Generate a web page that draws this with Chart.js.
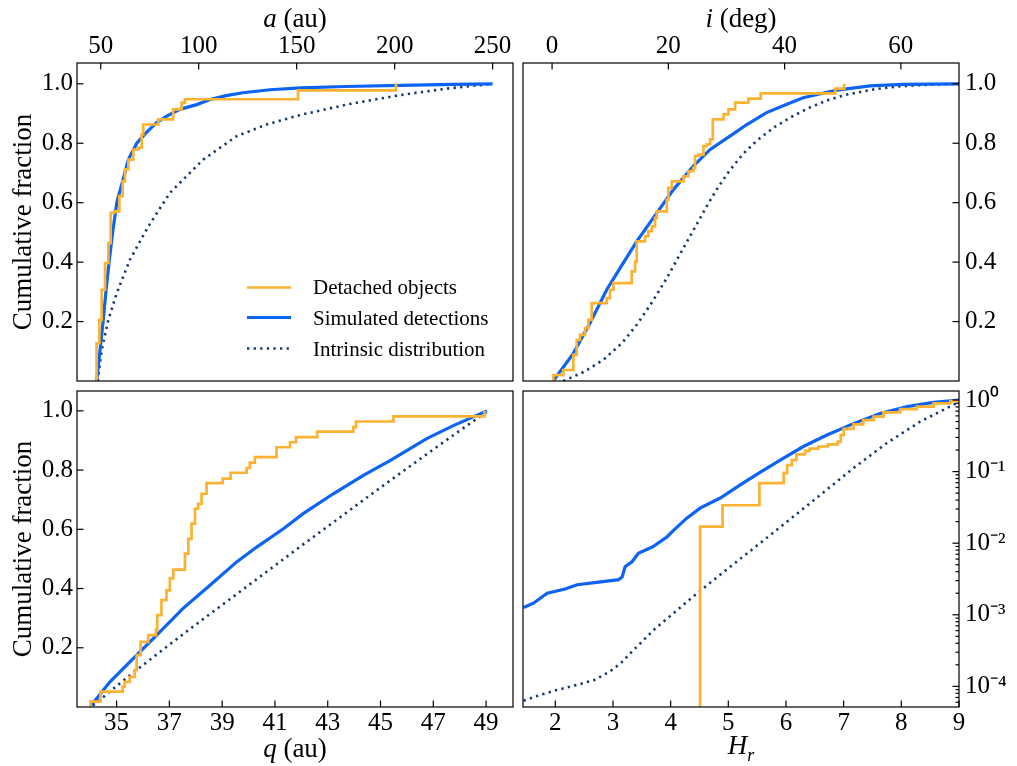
<!DOCTYPE html>
<html>
<head>
<meta charset="utf-8">
<script src="https://cdn.jsdelivr.net/npm/chart.js@4.4.1/dist/chart.umd.min.js"></script>
<style>
  body { margin: 0; background: #fff; }
  #wrap { position: relative; width: 1017px; height: 766px; font-family: "Liberation Serif", "Times New Roman", serif; color: #000; }
  #wrap canvas { position: absolute; left: 0; top: 0; }
  .ttl { position: absolute; font-size: 27px; line-height: 1; white-space: nowrap; transform: translate(-50%, -50%); }
  .rot { transform: translate(-50%, -50%) rotate(-90deg); }
  .leg { position: absolute; left: 247px; font-size: 21px; line-height: 1; white-space: nowrap; display: flex; align-items: center; transform: translateY(-50%); }
  .leg svg { margin-right: 22px; }
</style>
</head>
<body>
<div id="wrap">
  <canvas id="pA" width="1017" height="766"></canvas>
  <canvas id="pI" width="1017" height="766"></canvas>
  <canvas id="pQ" width="1017" height="766"></canvas>
  <canvas id="pH" width="1017" height="766"></canvas>
  <div class="ttl" style="left:295px; top:18px"><i>a</i> (au)</div>
  <div class="ttl" style="left:741px; top:18px"><i>i</i> (deg)</div>
  <div class="ttl" style="left:295px; top:748px"><i>q</i> (au)</div>
  <div class="ttl" style="left:741px; top:748px"><i>H<sub style="font-size:18px">r</sub></i></div>
  <div class="ttl rot" style="left:22px; top:222px">Cumulative fraction</div>
  <div class="ttl rot" style="left:22px; top:549px">Cumulative fraction</div>
</div>
<script>
// tick labels
const aTicks = [50, 100, 150, 200, 250];
const iTicks = [0, 20, 40, 60];
const qTicks = [35, 37, 39, 41, 43, 45, 47, 49];
const hTicks = [2, 3, 4, 5, 6, 7, 8, 9];
const fracTicks = [0.2, 0.4, 0.6, 0.8, 1.0];
const logTicks = [1e-4, 1e-3, 1e-2, 1e-1, 1];
const logTickLabels = ['10⁻⁴', '10⁻³', '10⁻²', '10⁻¹', '10⁰'];
const legendLabels = ['Detached objects', 'Simulated detections', 'Intrinsic distribution'];

// semimajor axis a (au)
const aDet = [47.9, 47.9, 49.3, 50.5, 52.2, 53.9, 55.1, 56.9, 59.5, 61.2, 62.4, 64.1, 66.6, 69.2, 70.9, 71.7, 79.4, 87.0, 91.3, 93.0, 150.7, 200.7];
const aDetF = [0, 0.127, 0.206, 0.307, 0.397, 0.464, 0.566, 0.571, 0.622, 0.672, 0.712, 0.745, 0.779, 0.785, 0.83, 0.863, 0.88, 0.914, 0.937, 0.948, 0.978, 1.0];
const aSim = [47.9, 49.6, 51.3, 52.8, 54.4, 56.1, 58.2, 61.5, 64.1, 68.4, 73.1, 78.6, 83.7, 90.4, 99, 105.8, 114, 122.6, 136.4, 152, 175, 203, 230, 250];
const aSimF = [0, 0.1, 0.206, 0.31, 0.408, 0.5, 0.6, 0.68, 0.745, 0.8, 0.835, 0.87, 0.891, 0.914, 0.93, 0.947, 0.96, 0.97, 0.98, 0.986, 0.991, 0.995, 0.998, 1.0];
const aInt = [48.5, 50.5, 53.9, 58.2, 64.9, 74.3, 85.3, 102.3, 119.4, 134.7, 151.7, 177, 202.7, 228, 250];
const aIntF = [0, 0.105, 0.206, 0.296, 0.408, 0.52, 0.633, 0.745, 0.824, 0.863, 0.895, 0.932, 0.962, 0.985, 1.0];

// inclination i (deg)
const iDet = [0.22, 0.22, 1.94, 3.66, 4.24, 4.81, 5.67, 6.24, 6.82, 9.4, 9.97, 10.55, 13.7, 14.28, 14.56, 16.0, 16.57, 17.15, 17.72, 18.0, 19.73, 20.0, 20.6, 22.6, 23.46, 24.3, 24.6, 25.18, 26.04, 26.6, 27.19, 27.65, 29.48, 30.34, 31.49, 33.78, 35.9, 48.7, 50.25];
const iDetF = [0, 0.02, 0.037, 0.088, 0.138, 0.155, 0.178, 0.206, 0.262, 0.279, 0.307, 0.329, 0.369, 0.402, 0.47, 0.487, 0.504, 0.52, 0.549, 0.571, 0.61, 0.65, 0.672, 0.689, 0.706, 0.717, 0.757, 0.762, 0.79, 0.796, 0.813, 0.88, 0.897, 0.914, 0.937, 0.95, 0.968, 0.984, 1.0];
const iSim = [0.2, 3.66, 6.53, 9.4, 11.7, 14.57, 18.0, 20.87, 24.3, 27.2, 30.6, 33.5, 36.9, 40.4, 43.2, 49.0, 54.7, 60.3, 70];
const iSimF = [0, 0.093, 0.195, 0.307, 0.38, 0.47, 0.565, 0.644, 0.723, 0.779, 0.824, 0.863, 0.903, 0.931, 0.953, 0.979, 0.993, 0.998, 1.0];
const iInt = [1.94, 5.5, 8.8, 12.0, 14.6, 17.2, 19.7, 22.1, 24.4, 26.8, 28.5, 30.6, 32.9, 35.3, 38.3, 41.3, 44.3, 47.3, 50.5, 55.5, 60, 65, 70];
const iIntF = [0, 0.031, 0.071, 0.127, 0.19, 0.265, 0.345, 0.43, 0.51, 0.595, 0.65, 0.71, 0.765, 0.81, 0.855, 0.89, 0.92, 0.944, 0.963, 0.982, 0.992, 0.997, 1.0];

// perihelion q (au)
const qDet = [34.01, 34.01, 34.39, 35.23, 35.31, 35.5, 35.69, 35.76, 35.91, 36.2, 36.49, 36.54, 36.7, 36.89, 37.02, 37.15, 37.59, 37.72, 37.84, 37.97, 38.09, 38.22, 38.41, 39.02, 39.32, 39.93, 40.05, 40.24, 41.06, 41.57, 41.8, 42.6, 43.97, 44.07, 45.49, 48.94];
const qDetF = [0, 0.018, 0.052, 0.069, 0.085, 0.102, 0.125, 0.175, 0.22, 0.243, 0.26, 0.31, 0.361, 0.394, 0.434, 0.464, 0.518, 0.568, 0.619, 0.67, 0.686, 0.72, 0.756, 0.771, 0.791, 0.807, 0.825, 0.844, 0.877, 0.894, 0.911, 0.93, 0.945, 0.964, 0.981, 1.0];
const qSim = [34.05, 34.75, 35.76, 36.52, 37.52, 38.54, 39.55, 40.31, 41.32, 42.07, 43.21, 44.35, 45.36, 46.75, 47.76, 49.03];
const qSimF = [0.007, 0.085, 0.175, 0.243, 0.333, 0.411, 0.49, 0.54, 0.602, 0.653, 0.72, 0.782, 0.832, 0.906, 0.95, 1.0];
const qInt = [34.1, 35.13, 35.76, 37.02, 38.28, 39.55, 40.81, 42.07, 43.34, 44.6, 45.87, 47.13, 48.4, 49.0];
const qIntF = [0.005, 0.08, 0.125, 0.212, 0.297, 0.381, 0.465, 0.549, 0.632, 0.715, 0.797, 0.878, 0.958, 0.995];

// absolute magnitude H_r (log y)
const hDet = [4.51, 4.51, 4.9, 5.54, 5.96, 6.02, 6.1, 6.18, 6.33, 6.41, 6.56, 6.73, 6.9, 6.95, 7.0, 7.17, 7.34, 7.52, 7.69, 7.98, 8.27, 8.56, 8.85, 9.0];
const hDetF = [1e-6, 0.017, 0.0339, 0.0692, 0.0955, 0.123, 0.145, 0.174, 0.195, 0.209, 0.224, 0.24, 0.263, 0.324, 0.394, 0.457, 0.525, 0.585, 0.673, 0.748, 0.807, 0.897, 0.968, 1.0];
const hSim = [1.45, 1.62, 1.86, 2.17, 2.38, 2.68, 3.1, 3.16, 3.21, 3.33, 3.44, 3.69, 3.94, 4.05, 4.28, 4.51, 4.86, 5.2, 5.55, 5.9, 6.3, 6.71, 7.17, 7.63, 8.1, 8.56, 9.0];
const hSimF = [1.26e-3, 1.45e-3, 2.0e-3, 2.29e-3, 2.63e-3, 2.82e-3, 3.09e-3, 3.39e-3, 4.68e-3, 5.5e-3, 7.24e-3, 8.91e-3, 0.0123, 0.0151, 0.0224, 0.0309, 0.0427, 0.0646, 0.0977, 0.145, 0.224, 0.324, 0.468, 0.646, 0.807, 0.927, 1.0];
const hInt = [1.45, 1.74, 2.03, 2.38, 2.68, 2.95, 3.13, 3.36, 3.71, 4.05, 4.46, 4.86, 5.44, 6.02, 6.59, 7.17, 7.75, 8.33, 9.0];
const hIntF = [6.3e-5, 7.6e-5, 8.9e-5, 1.05e-4, 1.23e-4, 1.62e-4, 2.09e-4, 3.24e-4, 6.17e-4, 1.05e-3, 2.0e-3, 3.63e-3, 8.51e-3, 0.02, 0.0468, 0.112, 0.251, 0.501, 0.94];

const FONT = "'Liberation Serif', 'Times New Roman', serif";
const YELLOW = '#fbb232';
const BLUE = '#0d63f2';
const NAVY = '#163a6b';
const DOTS = [2.3, 4.3];

function pts(xs, ys) {
    return xs.map((x, i) => ({ x, y: ys[i] }));
}

// frame + inward ticks, matplotlib style
const frameTicks = {
    id: 'frameTicks',
    afterDatasetsDraw(chart) {
        const { ctx, chartArea: a } = chart;
        ctx.save();
        ctx.strokeStyle = '#000';
        ctx.lineWidth = 1.2;
        Object.values(chart.scales).forEach((s) => {
            const marks = s.ticks.map((t) => [t.value, 6.5]);
            if (s.type === 'logarithmic') {
                for (let e = -6; e <= 0; e++) {
                    for (let k = 2; k <= 9; k++) marks.push([k * Math.pow(10, e), 3.5]);
                }
            }
            marks.forEach(([v, len]) => {
                if (v < s.min || v > s.max) return;
                const p = s.getPixelForValue(v);
                ctx.beginPath();
                if (s.position === 'top') { ctx.moveTo(p, a.top); ctx.lineTo(p, a.top + len); }
                if (s.position === 'bottom') { ctx.moveTo(p, a.bottom); ctx.lineTo(p, a.bottom - len); }
                if (s.position === 'left') { ctx.moveTo(a.left, p); ctx.lineTo(a.left + len, p); }
                if (s.position === 'right') { ctx.moveTo(a.right, p); ctx.lineTo(a.right - len, p); }
                ctx.stroke();
            });
        });
        ctx.strokeRect(a.left, a.top, a.right - a.left, a.bottom - a.top);
        ctx.restore();
    },
};

function axis(type, position, min, max, vals, labels, size, pad) {
    const horiz = position === 'top' || position === 'bottom';
    return {
        type, position, min, max,
        bounds: 'data',
        grid: { display: false, drawTicks: false },
        border: { display: false },
        ticks: {
            autoSkip: false,
            maxRotation: 0,
            padding: pad,
            color: '#000',
            font: { family: FONT, size: 25 },
            callback: (v, i) => labels[i],
        },
        afterBuildTicks: (s) => { s.ticks = vals.map((v) => ({ value: v })); },
        afterFit: (s) => {
            if (horiz) { s.height = size; s.paddingLeft = 0; s.paddingRight = 0; }
            else { s.width = size; s.paddingTop = 0; s.paddingBottom = 0; }
        },
    };
}

function datasets(det, sim, intr) {
    return [
        { label: legendLabels[0], data: det, borderColor: YELLOW, borderWidth: 2.7, stepped: 'before', order: 0 },
        { label: legendLabels[1], data: sim, borderColor: BLUE, borderWidth: 3.2, order: 1 },
        { label: legendLabels[2], data: intr, borderColor: NAVY, borderWidth: 2.6, borderDash: DOTS, order: 2 },
    ];
}

function panel(id, pad, xAxis, yAxis, sets) {
    new Chart(document.getElementById(id), {
        type: 'line',
        data: { datasets: sets },
        options: {
            responsive: false,
            animation: false,
            events: [],
            layout: { padding: pad },
            elements: {
                point: { radius: 0 },
                line: { tension: 0, fill: false, borderCapStyle: 'butt', borderJoinStyle: 'miter' },
            },
            plugins: { legend: { display: false }, tooltip: { enabled: false } },
            scales: { x: xAxis, y: yAxis },
        },
        plugins: [frameTicks],
    });
}

const fracLabels = fracTicks.map((v) => v.toFixed(1));

panel('pA', { left: 0, top: 0, right: 504, bottom: 385 },
    axis('linear', 'top', 37.9, 260.4, aTicks, aTicks.map(String), 63, 2),
    axis('linear', 'left', 0, 1.07, fracTicks, fracLabels, 77, 4),
    datasets(pts(aDet, aDetF), pts(aSim, aSimF), pts(aInt, aIntF)));

panel('pI', { left: 523, top: 0, right: 0, bottom: 385 },
    axis('linear', 'top', -5, 70, iTicks, iTicks.map(String), 63, 2),
    axis('linear', 'right', 0, 1.07, fracTicks, fracLabels, 58, 6),
    datasets(pts(iDet, iDetF), pts(iSim, iSimF), pts(iInt, iIntF)));

panel('pQ', { left: 0, top: 391, right: 504, bottom: 0 },
    axis('linear', 'bottom', 33.5, 50.02, qTicks, qTicks.map(String), 59, 1),
    axis('linear', 'left', 0, 1.067, fracTicks, fracLabels, 77, 4),
    datasets(pts(qDet, qDetF), pts(qSim, qSimF), pts(qInt, qIntF)));

panel('pH', { left: 523, top: 391, right: 0, bottom: 0 },
    axis('linear', 'bottom', 1.44, 9.0, hTicks, hTicks.map(String), 59, 1),
    axis('logarithmic', 'right', 5.15e-5, 1.336, logTicks, logTickLabels, 58, 6),
    datasets(pts(hDet, hDetF), pts(hSim, hSimF), pts(hInt, hIntF)));

// legend inside the top-left panel
const legendStyles = [
    { color: YELLOW, width: 2.7, dash: '' },
    { color: BLUE, width: 3.2, dash: '' },
    { color: NAVY, width: 2.6, dash: DOTS.join(' ') },
];
const legendRows = [287, 317.5, 348.5];
legendLabels.forEach((text, i) => {
    const st = legendStyles[i];
    const row = document.createElement('div');
    row.className = 'leg';
    row.style.top = legendRows[i] + 'px';
    row.innerHTML = '<svg width="44" height="8"><line x1="0" y1="4" x2="44" y2="4" stroke="' + st.color +
        '" stroke-width="' + st.width + '" stroke-dasharray="' + st.dash + '"/></svg><span>' + text + '</span>';
    document.getElementById('wrap').appendChild(row);
});
</script>
</body>
</html>
